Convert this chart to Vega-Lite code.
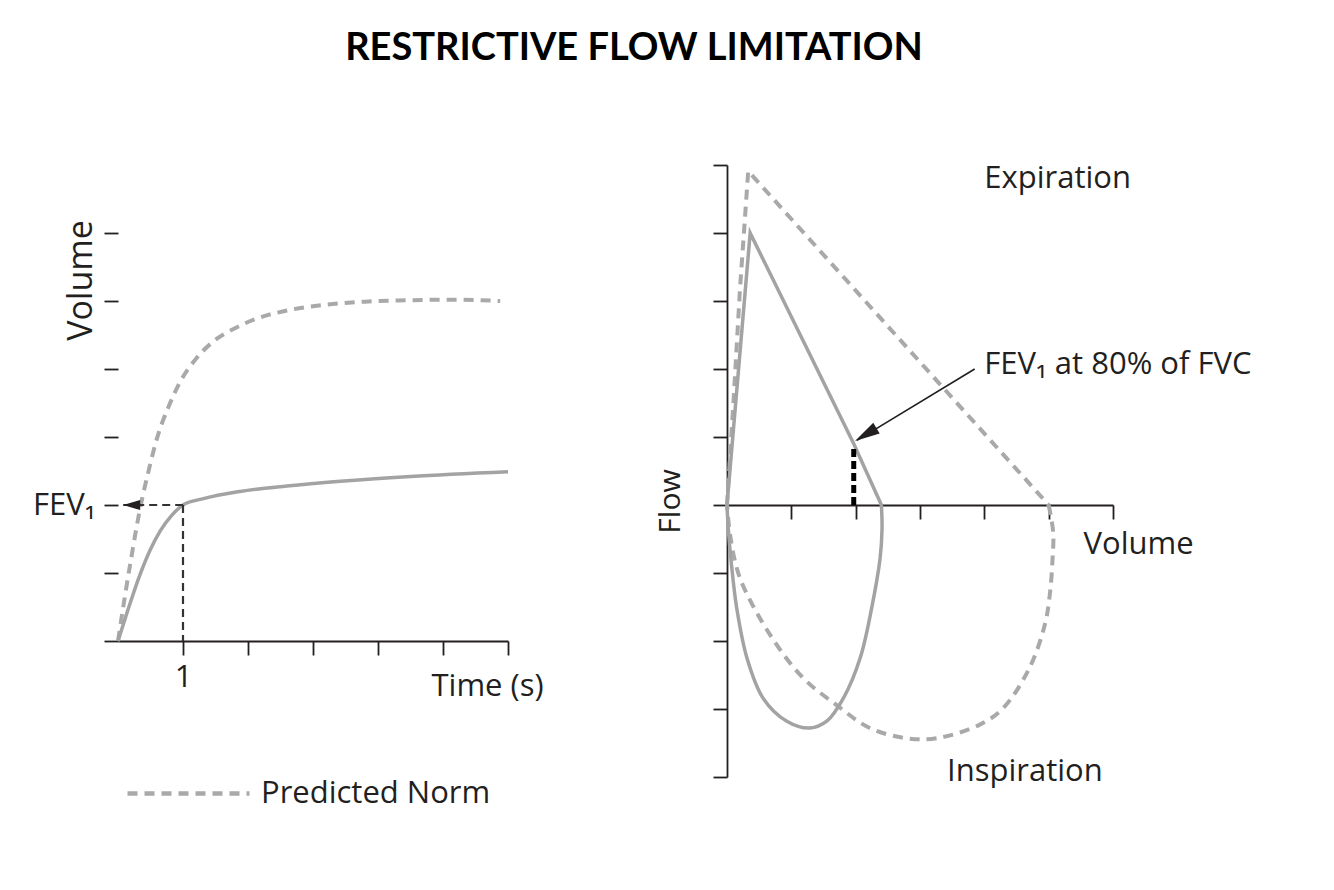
{
  "$schema": "https://vega.github.io/schema/vega-lite/v6.json",
  "background": "white",
  "padding": {"left": 32, "top": 30, "right": 10, "bottom": 10},
  "autosize": {"type": "pad"},
  "bounds": "flush",
  "spacing": 219,
  "title": {"text": "RESTRICTIVE FLOW LIMITATION", "font": "Lato", "fontWeight": "bold", "fontSize": 38, "color": "#000000", "anchor": "middle", "baseline": "alphabetic", "offset": 65, "dx": -8},
  "datasets": {
    "predLeft": [
      {"time": 0, "volume": 0, "series": "Predicted Norm"},
      {"time": 0.1, "volume": 0.62, "series": "Predicted Norm"},
      {"time": 0.2, "volume": 1.2, "series": "Predicted Norm"},
      {"time": 0.34, "volume": 1.95, "series": "Predicted Norm"},
      {"time": 0.47, "volume": 2.5, "series": "Predicted Norm"},
      {"time": 0.6, "volume": 2.98, "series": "Predicted Norm"},
      {"time": 0.78, "volume": 3.45, "series": "Predicted Norm"},
      {"time": 0.95, "volume": 3.8, "series": "Predicted Norm"},
      {"time": 1.2, "volume": 4.15, "series": "Predicted Norm"},
      {"time": 1.46, "volume": 4.4, "series": "Predicted Norm"},
      {"time": 1.8, "volume": 4.6, "series": "Predicted Norm"},
      {"time": 2.13, "volume": 4.74, "series": "Predicted Norm"},
      {"time": 2.6, "volume": 4.86, "series": "Predicted Norm"},
      {"time": 3.15, "volume": 4.94, "series": "Predicted Norm"},
      {"time": 3.8, "volume": 4.99, "series": "Predicted Norm"},
      {"time": 4.44, "volume": 5.01, "series": "Predicted Norm"},
      {"time": 5.2, "volume": 5.02, "series": "Predicted Norm"},
      {"time": 5.88, "volume": 5.0, "series": "Predicted Norm"}
    ],
    "measLeft": [
      {"time": 0, "volume": 0},
      {"time": 0.15, "volume": 0.45},
      {"time": 0.34, "volume": 0.98},
      {"time": 0.5, "volume": 1.35},
      {"time": 0.65, "volume": 1.62},
      {"time": 0.82, "volume": 1.84},
      {"time": 1, "volume": 2.0},
      {"time": 1.3, "volume": 2.09},
      {"time": 1.88, "volume": 2.2},
      {"time": 2.6, "volume": 2.28},
      {"time": 3.42, "volume": 2.35},
      {"time": 4.5, "volume": 2.42},
      {"time": 6, "volume": 2.49}
    ],
    "fevGuide": [
      {"time": 0.08, "volume": 2, "g": "h"},
      {"time": 1, "volume": 2, "g": "h"},
      {"time": 1, "volume": 2, "g": "v"},
      {"time": 1, "volume": 0, "g": "v"}
    ],
    "fevArrow": [{"time": 0.08, "volume": 2}],
    "predExp": [
      {"volume": 0, "flow": 0},
      {"volume": 0.1, "flow": 1.5},
      {"volume": 0.2, "flow": 3.15},
      {"volume": 0.33, "flow": 4.91},
      {"volume": 5.0, "flow": 0}
    ],
    "predInsp": [
      {"i": 0, "volume": 5.0, "flow": 0},
      {"i": 1, "volume": 5.07, "flow": -0.4},
      {"i": 2, "volume": 5.06, "flow": -0.8},
      {"i": 3, "volume": 5.02, "flow": -1.3},
      {"i": 4, "volume": 4.94, "flow": -1.76},
      {"i": 5, "volume": 4.7, "flow": -2.4},
      {"i": 6, "volume": 4.29, "flow": -2.99},
      {"i": 7, "volume": 3.93, "flow": -3.23},
      {"i": 8, "volume": 3.26, "flow": -3.43},
      {"i": 9, "volume": 2.79, "flow": -3.43},
      {"i": 10, "volume": 2.22, "flow": -3.28},
      {"i": 11, "volume": 1.7, "flow": -2.94},
      {"i": 12, "volume": 1.18, "flow": -2.54},
      {"i": 13, "volume": 0.67, "flow": -1.91},
      {"i": 14, "volume": 0.2, "flow": -1.07},
      {"i": 15, "volume": 0.05, "flow": -0.45},
      {"i": 16, "volume": 0, "flow": 0}
    ],
    "measExp": [
      {"volume": 0, "flow": 0},
      {"volume": 0.18, "flow": 2.0},
      {"volume": 0.36, "flow": 4.0},
      {"volume": 1.97, "flow": 0.9},
      {"volume": 2.4, "flow": 0}
    ],
    "measInsp": [
      {"i": 0, "volume": 2.4, "flow": 0},
      {"i": 1, "volume": 2.41, "flow": -0.35},
      {"i": 2, "volume": 2.38, "flow": -0.78},
      {"i": 3, "volume": 2.25, "flow": -1.51},
      {"i": 4, "volume": 2.07, "flow": -2.25},
      {"i": 5, "volume": 1.81, "flow": -2.84},
      {"i": 6, "volume": 1.55, "flow": -3.18},
      {"i": 7, "volume": 1.29, "flow": -3.28},
      {"i": 8, "volume": 0.93, "flow": -3.18},
      {"i": 9, "volume": 0.56, "flow": -2.84},
      {"i": 10, "volume": 0.31, "flow": -2.25},
      {"i": 11, "volume": 0.15, "flow": -1.51},
      {"i": 12, "volume": 0.07, "flow": -0.88},
      {"i": 13, "volume": 0.02, "flow": -0.35},
      {"i": 14, "volume": 0, "flow": 0}
    ],
    "fevMark": [
      {"volume": 1.97, "flow": 0},
      {"volume": 1.97, "flow": 0.88}
    ],
    "arrowLine": [
      {"volume": 3.85, "flow": 2.0},
      {"volume": 2.02, "flow": 0.95}
    ],
    "arrowTip": [{"volume": 1.99, "flow": 0.94}],
    "phaseLabels": [
      {"volume": 5.14, "flow": 4.66, "label": "Expiration"},
      {"volume": 4.63, "flow": -4.06, "label": "Inspiration"}
    ],
    "fevLabel": [{"volume": 4.0, "flow": 1.92, "label": "FEV₁ at 80% of FVC"}]
  },
  "hconcat": [
    {
      "width": 390,
      "height": 476,
      "encoding": {
        "x": {"field": "time", "type": "quantitative",
          "scale": {"domain": [0, 6], "nice": false, "zero": false},
          "axis": {"values": [1, 2, 3, 4, 5, 6], "labelExpr": "datum.value == 1 ? '1' : ''", "labelBaseline": "alphabetic", "labelPadding": 31,
            "title": "Time (s)", "titleX": 313, "titleY": 54, "titleAlign": "left", "titleBaseline": "alphabetic", "titleAnchor": null}},
        "y": {"field": "volume", "type": "quantitative",
          "scale": {"domain": [0, 7], "nice": false, "zero": false},
          "axis": {"values": [0, 1, 2, 3, 4, 5, 6], "domain": false, "labelExpr": "datum.value == 2 ? 'FEV₁' : ''", "labelBaseline": "alphabetic", "labelOffset": 9, "labelPadding": 9,
            "title": "Volume", "titleFontSize": 34, "titleX": -27, "titleY": 115, "titleAngle": -90, "titleAlign": "center", "titleBaseline": "alphabetic"}}
      },
      "layer": [
        {
          "data": {"values": [{}]},
          "mark": {"type": "rule", "color": "#231f20", "strokeWidth": 1.8},
          "encoding": {"x": {"datum": 0}, "y": {"datum": 0}, "y2": {"datum": 6}}
        },
        {
          "data": {"name": "predLeft"},
          "mark": {"type": "line", "color": "#a9a9a9", "strokeWidth": 4, "interpolate": "monotone"},
          "encoding": {
            "strokeDash": {"field": "series", "type": "nominal",
              "scale": {"domain": ["Predicted Norm"], "range": [[10, 7]]},
              "legend": {"orient": "none", "legendX": 7, "legendY": 565, "title": null, "symbolType": "stroke", "symbolSize": 14884, "symbolStrokeWidth": 4.5, "symbolStrokeColor": "#a9a9a9", "labelFontSize": 31, "labelFont": "Open Sans", "labelColor": "#231f20", "labelOffset": 9, "labelLimit": 0}}
          }
        },
        {
          "data": {"name": "measLeft"},
          "mark": {"type": "line", "color": "#a3a3a3", "strokeWidth": 3.5, "interpolate": "monotone"}
        },
        {
          "data": {"name": "fevGuide"},
          "mark": {"type": "line", "color": "#333333", "strokeWidth": 2.2, "strokeDash": [8, 5]},
          "encoding": {"detail": {"field": "g", "type": "nominal"}}
        },
        {
          "data": {"name": "fevArrow"},
          "mark": {"type": "point", "shape": "M0,0L-2,-0.6L-2,0.6Z", "size": 289, "angle": 180, "filled": true, "color": "#231f20", "opacity": 1, "strokeWidth": 0}
        }
      ]
    },
    {
      "width": 386,
      "height": 612,
      "encoding": {
        "x": {"field": "volume", "type": "quantitative",
          "scale": {"domain": [0, 6], "nice": false, "zero": false},
          "axis": {"values": [1, 2, 3, 4, 5, 6], "labels": false, "offset": -272,
            "title": "Volume", "titleX": 356, "titleY": 48, "titleAlign": "left", "titleBaseline": "alphabetic", "titleAnchor": null}},
        "y": {"field": "flow", "type": "quantitative",
          "scale": {"domain": [-4, 5], "nice": false, "zero": false},
          "axis": {"values": [-4, -3, -2, -1, 0, 1, 2, 3, 4, 5], "labels": false,
            "title": "Flow", "titleFontSize": 30, "titleX": -48, "titleY": 336, "titleAngle": -90, "titleAlign": "center", "titleBaseline": "alphabetic"}}
      },
      "layer": [
        {
          "data": {"name": "predExp"},
          "mark": {"type": "line", "color": "#a9a9a9", "strokeWidth": 4, "strokeDash": [10, 7]}
        },
        {
          "data": {"name": "predInsp"},
          "mark": {"type": "line", "color": "#a9a9a9", "strokeWidth": 4, "strokeDash": [10, 7], "interpolate": "catmull-rom"},
          "encoding": {"order": {"field": "i", "type": "quantitative"}}
        },
        {
          "data": {"name": "measExp"},
          "mark": {"type": "line", "color": "#a3a3a3", "strokeWidth": 3.5}
        },
        {
          "data": {"name": "measInsp"},
          "mark": {"type": "line", "color": "#a3a3a3", "strokeWidth": 3.5, "interpolate": "catmull-rom"},
          "encoding": {"order": {"field": "i", "type": "quantitative"}}
        },
        {
          "data": {"name": "fevMark"},
          "mark": {"type": "line", "color": "#000000", "strokeWidth": 5, "strokeDash": [8, 4]}
        },
        {
          "data": {"name": "arrowLine"},
          "mark": {"type": "line", "color": "#231f20", "strokeWidth": 1.6}
        },
        {
          "data": {"name": "arrowTip"},
          "mark": {"type": "point", "shape": "M0,0L-2,-0.5L-2,0.5Z", "size": 625, "angle": 149, "filled": true, "color": "#231f20", "opacity": 1, "strokeWidth": 0}
        },
        {
          "data": {"name": "phaseLabels"},
          "mark": {"type": "text", "align": "center", "baseline": "alphabetic", "fontSize": 31, "font": "Open Sans", "color": "#231f20"},
          "encoding": {"text": {"field": "label", "type": "nominal"}}
        },
        {
          "data": {"name": "fevLabel"},
          "mark": {"type": "text", "align": "left", "baseline": "alphabetic", "fontSize": 31, "font": "Open Sans", "color": "#231f20"},
          "encoding": {"text": {"field": "label", "type": "nominal"}}
        }
      ]
    }
  ],
  "config": {
    "view": {"stroke": null},
    "font": "Open Sans",
    "axis": {"grid": false, "domainColor": "#231f20", "tickColor": "#231f20", "domainWidth": 1.8, "tickWidth": 1.8, "tickSize": 14,
      "labelFont": "Open Sans", "labelFontSize": 31, "labelColor": "#231f20", "labelOverlap": false,
      "titleFont": "Open Sans", "titleFontSize": 31, "titleFontWeight": "normal", "titleColor": "#231f20"}
  }
}
